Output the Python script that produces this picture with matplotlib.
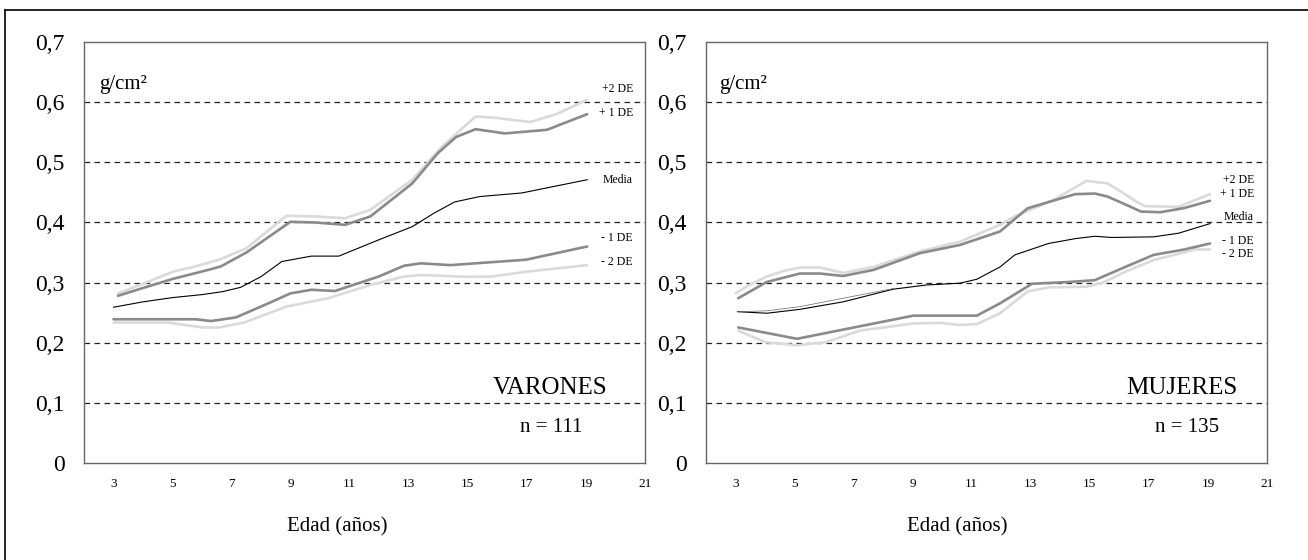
import matplotlib
matplotlib.use("Agg")
import matplotlib.pyplot as plt
from matplotlib.lines import Line2D

plt.rcParams['font.family'] = ['Liberation Serif', 'DejaVu Serif']

W, H = 1308, 560

# ---------------- data: VARONES ----------------
v_p2_age = [3.15, 4.0, 5.0, 5.71, 6.57, 7.5, 8.85, 9.8, 10.84, 11.7, 13.12, 14.12, 15.26, 15.9, 17.11, 18.0, 19.04]
v_p2_val = [0.282, 0.298, 0.318, 0.326, 0.338, 0.357, 0.411, 0.410, 0.407, 0.421, 0.471, 0.526, 0.576, 0.574, 0.567, 0.580, 0.604]
v_p1_age = [3.15, 4.0, 5.0, 6.28, 6.64, 7.5, 8.99, 9.8, 10.84, 11.7, 13.12, 13.98, 14.6, 15.26, 16.26, 17.68, 19.04]
v_p1_val = [0.278, 0.291, 0.306, 0.322, 0.327, 0.350, 0.401, 0.400, 0.396, 0.410, 0.465, 0.515, 0.542, 0.555, 0.548, 0.554, 0.580]
v_me_age = [3.0, 4.0, 5.0, 6.0, 6.7, 7.3, 8.0, 8.7, 9.7, 10.63, 11.98, 13.12, 13.84, 14.55, 15.4, 16.83, 19.04]
v_me_val = [0.259, 0.268, 0.275, 0.280, 0.285, 0.292, 0.310, 0.335, 0.344, 0.344, 0.371, 0.393, 0.415, 0.434, 0.443, 0.449, 0.471]
v_m1_age = [3.0, 5.78, 6.3, 7.14, 8.27, 8.99, 9.7, 10.5, 11.98, 12.84, 13.41, 14.41, 16.97, 19.04]
v_m1_val = [0.239, 0.239, 0.236, 0.242, 0.266, 0.282, 0.288, 0.286, 0.310, 0.328, 0.332, 0.329, 0.338, 0.360]
v_m2_age = [3.0, 4.86, 6.0, 6.57, 7.42, 8.85, 10.27, 11.7, 12.84, 13.41, 14.83, 15.8, 16.97, 19.04]
v_m2_val = [0.2335, 0.2335, 0.2254, 0.2254, 0.2335, 0.260, 0.274, 0.296, 0.310, 0.3126, 0.3098, 0.310, 0.318, 0.329]

# ---------------- data: MUJERES ----------------
m_p2_age = [3.0, 3.5, 4.06, 4.6, 5.18, 5.86, 6.65, 7.67, 9.25, 10.6, 11.96, 12.46, 13.75, 14.88, 15.6, 16.16, 16.59, 16.87, 18.0, 19.07]
m_p2_val = [0.282, 0.297, 0.310, 0.319, 0.325, 0.325, 0.316, 0.326, 0.352, 0.368, 0.396, 0.410, 0.437, 0.469, 0.465, 0.448, 0.434, 0.427, 0.426, 0.447]
m_p1_age = [3.09, 4.06, 5.18, 5.86, 6.65, 7.67, 9.25, 10.6, 11.96, 12.89, 13.75, 14.5, 15.17, 15.6, 16.2, 16.73, 17.4, 18.2, 19.07]
m_p1_val = [0.274, 0.301, 0.315, 0.315, 0.311, 0.321, 0.349, 0.3625, 0.385, 0.4235, 0.436, 0.447, 0.448, 0.443, 0.430, 0.418, 0.417, 0.424, 0.436]
m_me_age = [3.07, 4.06, 5.18, 6.65, 8.34, 9.47, 10.6, 11.17, 11.96, 12.46, 13.6, 14.5, 15.17, 15.74, 17.16, 18.0, 19.07]
m_me_val = [0.2516, 0.249, 0.2555, 0.268, 0.289, 0.296, 0.299, 0.3055, 0.326, 0.346, 0.365, 0.373, 0.377, 0.375, 0.376, 0.382, 0.398]
m_me2_age = [3.07, 4.06, 5.18, 6.65, 8.34]
m_me2_val = [0.2516, 0.253, 0.260, 0.274, 0.290]
m_m1_age = [3.09, 5.08, 9.02, 11.17, 11.96, 13.04, 14.3, 15.17, 16.2, 17.16, 18.2, 19.07]
m_m1_val = [0.2254, 0.2065, 0.245, 0.245, 0.2655, 0.298, 0.301, 0.304, 0.326, 0.346, 0.355, 0.365]
m_m2_age = [3.09, 4.0, 5.08, 6.07, 7.2, 9.02, 9.92, 10.6, 11.17, 11.96, 12.89, 13.6, 14.88, 15.45, 16.2, 17.16, 18.58, 19.07]
m_m2_val = [0.220, 0.201, 0.1957, 0.201, 0.220, 0.232, 0.233, 0.2295, 0.231, 0.249, 0.285, 0.292, 0.293, 0.300, 0.318, 0.3375, 0.355, 0.355]

x_ticks = [3, 5, 7, 9, 11, 13, 15, 17, 19, 21]
y_ticks = [0, 0.1, 0.2, 0.3, 0.4, 0.5, 0.6, 0.7]
y_labels = ["0", "0,1", "0,2", "0,3", "0,4", "0,5", "0,6", "0,7"]
de_labels = ["+2 DE", "+ 1 DE", "Media", "- 1 DE", "- 2 DE"]

DARK = '#8a8a8a'
LIGHT = '#dadada'

fig = plt.figure(figsize=(W / 100, H / 100), dpi=100)


def fx(x):
    return x / W


def fy(y):
    return 1 - y / H


# outer frame (top and left only)
fig.add_artist(Line2D([fx(5), fx(5)], [fy(9.5), fy(560)], color='black', lw=1.2,
                      transform=fig.transFigure))
fig.add_artist(Line2D([fx(5), fx(1308)], [fy(9.5), fy(9.5)], color='black', lw=1.2,
                      transform=fig.transFigure))


def make_axes(left_px, right_px):
    ax = fig.add_axes([fx(left_px), fy(463), (right_px - left_px) / W, (463 - 42) / H])
    ax.set_xlim(2, 21)
    ax.set_ylim(0, 0.7)
    for s in ax.spines.values():
        s.set_color('#666666')
        s.set_linewidth(1.0)
    for yv in y_ticks[1:-1]:
        ax.axhline(yv, color='#222222', lw=0.9, ls=(0, (4.5, 3.5)), zorder=1)
    ax.set_xticks(x_ticks)
    ax.set_xticklabels([str(t) for t in x_ticks], fontsize=9.5)
    ax.set_yticks(y_ticks)
    ax.set_yticklabels(y_labels, fontsize=17)
    ax.tick_params(axis='x', length=0, pad=11)
    ax.tick_params(axis='y', length=0, pad=14)
    return ax


axL = make_axes(84, 645)
axR = make_axes(706, 1267)


def draw(ax, p2a, p2v, p1a, p1v, mea, mev, m1a, m1v, m2a, m2v):
    ax.plot(p2a, p2v, color=LIGHT, lw=1.9, zorder=3, solid_joinstyle='round', solid_capstyle='round')
    ax.plot(m2a, m2v, color=LIGHT, lw=1.9, zorder=3, solid_joinstyle='round', solid_capstyle='round')
    ax.plot(p1a, p1v, color=DARK, lw=1.9, zorder=4, solid_joinstyle='round', solid_capstyle='round')
    ax.plot(m1a, m1v, color=DARK, lw=1.9, zorder=4, solid_joinstyle='round', solid_capstyle='round')
    ax.plot(mea, mev, color='black', lw=0.8, zorder=5, solid_joinstyle='round')


draw(axL, v_p2_age, v_p2_val, v_p1_age, v_p1_val, v_me_age, v_me_val,
     v_m1_age, v_m1_val, v_m2_age, v_m2_val)
draw(axR, m_p2_age, m_p2_val, m_p1_age, m_p1_val, m_me_age, m_me_val,
     m_m1_age, m_m1_val, m_m2_age, m_m2_val)
axR.plot(m_me2_age, m_me2_val, color='#666666', lw=0.5, zorder=5)

# texts
def ftext(x, y, s, size, ha='center', va='center'):
    fig.text(fx(x), fy(y), s, fontsize=size, ha=ha, va=va)


ftext(99, 84, "g/cm²", 15, ha='left')
ftext(719, 84, "g/cm²", 15, ha='left')

ftext(550, 388, "VARONES", 18)
ftext(551, 428, "n = 111", 15)
ftext(1182, 388, "MUJERES", 18)
ftext(1187, 428, "n = 135", 15)

ftext(337, 527, "Edad (años)", 15)
ftext(957, 527, "Edad (años)", 15)

left_de_y = [89, 113, 180, 238, 262]
right_de_y = [180, 194, 217, 241, 254]
for lab, y in zip(de_labels, left_de_y):
    ftext(633, y, lab, 8.5, ha='right')
for lab, y in zip(de_labels, right_de_y):
    ftext(1254, y, lab, 8.5, ha='right')

fig.savefig("out.png", dpi=100)
